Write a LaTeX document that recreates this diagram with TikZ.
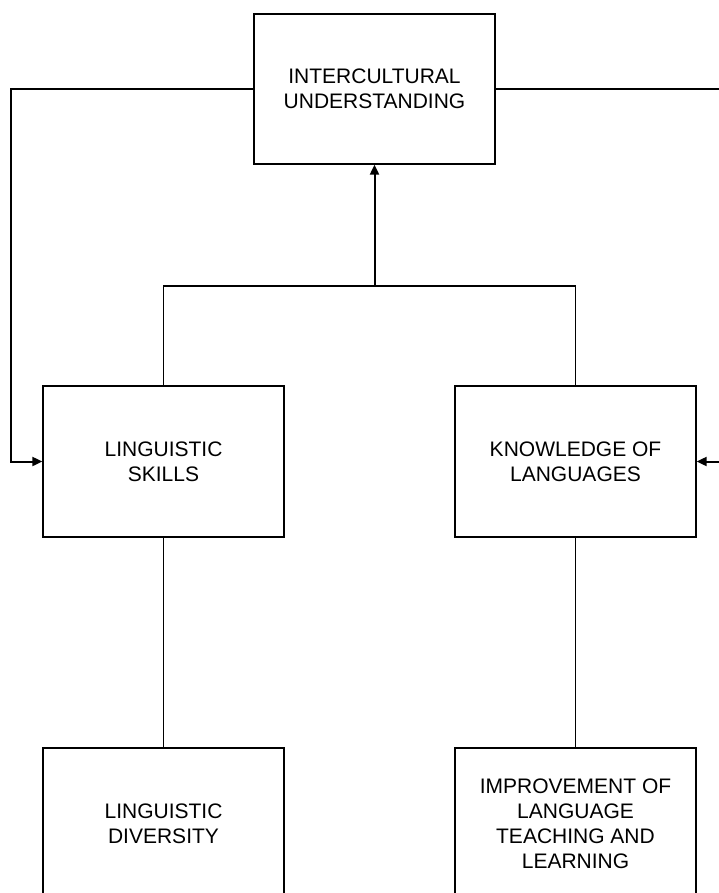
\documentclass[tikz,border=0pt]{standalone}
\usepackage{fontspec}
\setmainfont{Liberation Sans}
\usetikzlibrary{arrows.meta}
\begin{document}
\begin{tikzpicture}[x=1bp,y=-1bp,
  box/.style={draw,line width=1.3bp,minimum width=241bp,minimum height=151bp,
    inner sep=0pt,align=center,font=\fontsize{21bp}{25bp}\selectfont},
  link/.style={line width=1.3bp},
  feed/.style={line width=2bp,-{Triangle[length=10bp,width=9bp]}},
]
\useasboundingbox (0,0) rectangle (719,893);
\clip (0,0) rectangle (719,893);

% boxes
\node[box,minimum height=150bp] (iu) at (374.5,89) {INTERCULTURAL\\UNDERSTANDING};
\node[box] (ls) at (163.5,461.5) {LINGUISTIC\\SKILLS};
\node[box] (kl) at (575.5,461.5) {KNOWLEDGE OF\\LANGUAGES};
\node[box] (ld) at (163.5,823.5) {LINGUISTIC\\DIVERSITY};
\node[box] (il) at (575.5,823.5) {IMPROVEMENT OF\\LANGUAGE\\TEACHING AND\\LEARNING};

% helper coordinates for routing
\coordinate (j) at (375,286);
\coordinate (lx) at (11,0);
\coordinate (rx) at (720,0);

% tree joining the two middle boxes to the top box
\draw[link] (ls.north) -- (ls.north |- j) -- (kl.north |- j) -- (kl.north);
\draw[feed] (iu.south |- j) -- (iu.south);

% lower links
\draw[link] (ls.south) -- (ld.north);
\draw[link] (kl.south) -- (il.north);

% feedback loops from the top box
\draw[feed] (iu.west) -- (iu.west -| lx) -- (ls.west -| lx) -- (ls.west);
\draw[feed] (iu.east) -- (iu.east -| rx) -- (kl.east -| rx) -- (kl.east);
\end{tikzpicture}
\end{document}
